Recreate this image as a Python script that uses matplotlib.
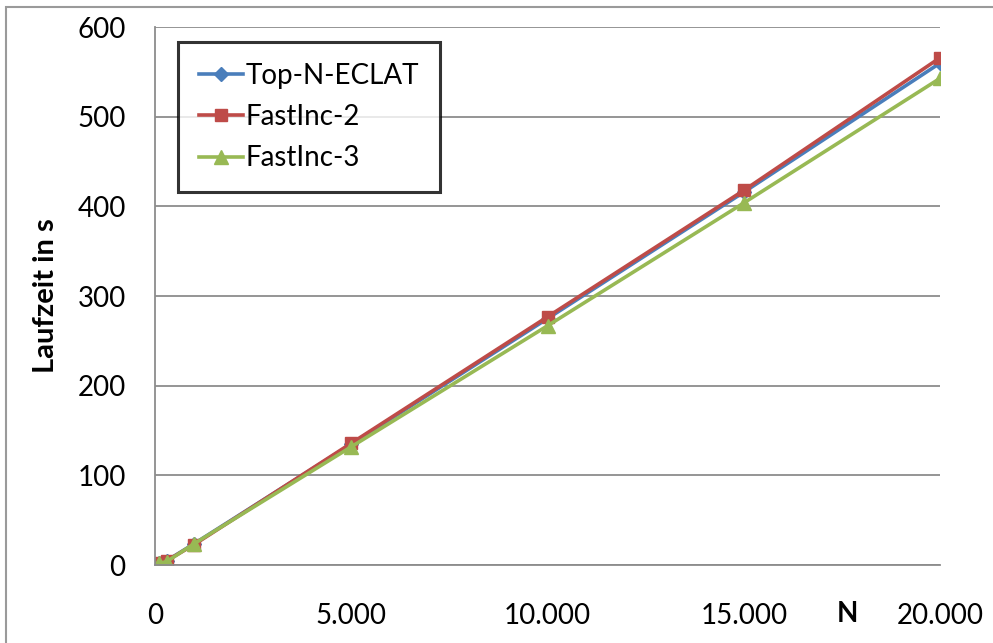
"""Laufzeit vs N"""

import matplotlib
matplotlib.use('Agg')
import matplotlib.pyplot as plt
from matplotlib.patches import Rectangle
from matplotlib.ticker import FuncFormatter

plt.rcParams['font.family'] = ['Lato', 'DejaVu Sans']

# data
n_values = [100, 300, 1000, 5000, 10000, 15000, 20000]
top_n_eclat = [2, 5, 24, 135, 275, 416, 560]
fastinc_2 = [2, 5, 23, 136, 277, 418, 566]
fastinc_3 = [2, 4, 24, 132, 267, 404, 543]

x_ticks = [0, 5000, 10000, 15000, 20000]
y_ticks = [0, 100, 200, 300, 400, 500, 600]

fig = plt.figure(figsize=(9.93, 6.43), dpi=100)
ax = fig.add_axes([0.156, 0.121, 0.791, 0.837])

# outer chart border (Excel style)
fig.patches.append(Rectangle((6 / 993, -0.05), 1.2, 1 - 7 / 643 + 0.05,
                             transform=fig.transFigure, fill=False,
                             edgecolor='#9a9a9a', linewidth=1.5))

ax.plot(n_values, top_n_eclat, color='#4A7EBB', lw=2.6, marker='D', ms=7,
        label='Top-N-ECLAT')
ax.plot(n_values, fastinc_2, color='#BE4B48', lw=2.6, marker='s', ms=9,
        label='FastInc-2')
ax.plot(n_values, fastinc_3, color='#98B954', lw=2.6, marker='^', ms=10,
        label='FastInc-3')

ax.set_xlim(0, 20000)
ax.set_ylim(0, 600)
ax.set_xticks(x_ticks)
ax.set_yticks(y_ticks)
ax.xaxis.set_major_formatter(FuncFormatter(lambda v, p: f'{int(v):,}'.replace(',', '.')))
ax.tick_params(axis='both', length=0, labelsize=20)
ax.tick_params(axis='x', pad=27)
ax.tick_params(axis='y', pad=21)

ax.grid(axis='y', color='#8c8c8c', linewidth=1.3)
ax.set_axisbelow(True)
for side in ['top', 'right']:
    ax.spines[side].set_visible(False)
for side in ['left', 'bottom']:
    ax.spines[side].set_color('#8c8c8c')
    ax.spines[side].set_linewidth(1.3)

ax.set_ylabel('Laufzeit in s', fontsize=21, fontweight='bold', labelpad=13)
ax.text(0.882, -0.09, 'N', transform=ax.transAxes, fontsize=20,
        fontweight='bold', ha='center', va='center')

leg = ax.legend(loc='upper left', bbox_to_anchor=(0.029, 0.972), fontsize=20,
                frameon=True, fancybox=False, borderpad=0.75, borderaxespad=0,
                handlelength=1.6, handletextpad=0.1, labelspacing=0.55)
leg.get_frame().set_edgecolor('black')
leg.get_frame().set_linewidth(2.2)

plt.savefig('out.png', dpi=100)
